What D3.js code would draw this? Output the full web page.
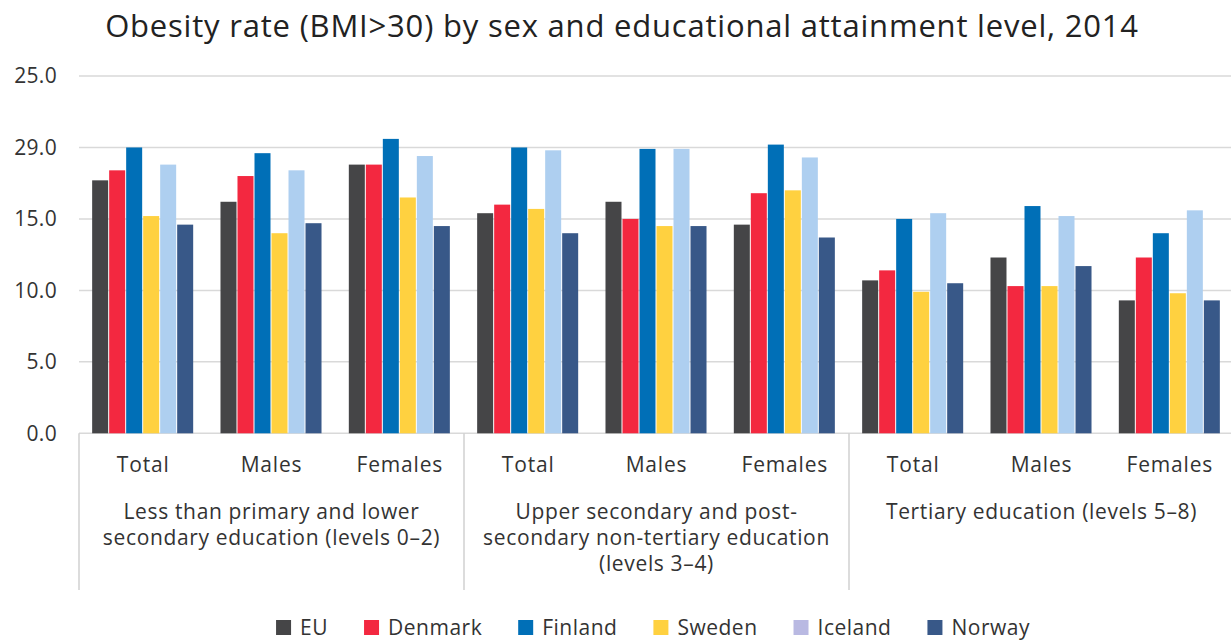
<!DOCTYPE html>
<html lang="en">
  <head>
    <meta charset="UTF-8" />
    <title>Obesity rate (BMI>30) by sex and educational attainment level, 2014</title>
    <script src="https://d3js.org/d3.v7.min.js"></script>
    <style>
      body { margin: 0; background: #fff; }
      text { font-family: "Open Sans", Lato, sans-serif; fill: #333; }
    </style>
  </head>
  <body>
    <svg id="chart"></svg>
    <script>
      // Data
      const sexes = ["Total", "Males", "Females"];
      const groups = [
        ["Less than primary and lower", "secondary education (levels 0–2)"],
        ["Upper secondary and post-", "secondary non-tertiary education", "(levels 3–4)"],
        ["Tertiary education (levels 5–8)"],
      ];
      const countries = ["EU", "Denmark", "Finland", "Sweden", "Iceland", "Norway"];
      // one value per category: group 1 (T,M,F), group 2 (T,M,F), group 3 (T,M,F)
      const euValues      = [17.7, 16.2, 18.8, 15.4, 16.2, 14.6, 10.7, 12.3, 9.3];
      const denmarkValues = [18.4, 18.0, 18.8, 16.0, 15.0, 16.8, 11.4, 10.3, 12.3];
      const finlandValues = [20.0, 19.6, 20.6, 20.0, 19.9, 20.2, 15.0, 15.9, 14.0];
      const swedenValues  = [15.2, 14.0, 16.5, 15.7, 14.5, 17.0, 9.9, 10.3, 9.8];
      const icelandValues = [18.8, 18.4, 19.4, 19.8, 19.9, 19.3, 15.4, 15.2, 15.6];
      const norwayValues  = [14.6, 14.7, 14.5, 14.0, 14.5, 13.7, 10.5, 11.7, 9.3];
      const yTickValues = [0, 5, 10, 15, 20, 25];
      const yTickLabels = ["0.0", "5.0", "10.0", "15.0", "29.0", "25.0"];

      const barColors = ["#454547", "#f32840", "#006fb7", "#ffd140", "#aecff0", "#385888"];
      const legendColors = ["#454547", "#f32840", "#006fb7", "#ffd140", "#b9b9e2", "#385888"];

      const series = [euValues, denmarkValues, finlandValues, swedenValues, icelandValues, norwayValues];
      const categories = [];
      groups.forEach((g, gi) => sexes.forEach((s) => categories.push({ key: gi + "-" + s, sex: s, group: gi })));

      const W = 1231, H = 641;
      const plotLeft = 79, plotRight = 1234, base = 433.3, plotTop = 76;

      const svg = d3.select("#chart").attr("width", W).attr("height", H);

      const x0 = d3.scaleBand()
        .domain(categories.map((d) => d.key))
        .range([plotLeft, plotRight])
        .paddingInner(0.205)
        .paddingOuter(0.1025);
      const x1 = d3.scaleBand().domain(countries).range([0, x0.bandwidth()]);
      const y = d3.scaleLinear().domain([0, 25]).range([base, plotTop]);

      // Title
      svg.append("text")
        .attr("x", 622)
        .attr("y", 37)
        .attr("text-anchor", "middle")
        .style("font-size", "31px")
        .style("letter-spacing", "0.8px")
        .style("fill", "#222")
        .text("Obesity rate (BMI>30) by sex and educational attainment level, 2014");

      // Gridlines
      svg.append("g")
        .selectAll("line")
        .data(yTickValues)
        .join("line")
        .attr("x1", plotLeft)
        .attr("x2", W)
        .attr("y1", (d) => y(d))
        .attr("y2", (d) => y(d))
        .attr("stroke", "#d9d9d9")
        .attr("stroke-width", 1.5);

      // Y tick labels
      svg.append("g")
        .selectAll("text")
        .data(yTickValues)
        .join("text")
        .attr("x", 57)
        .attr("y", (d) => y(d))
        .attr("dy", "0.35em")
        .attr("text-anchor", "end")
        .style("font-size", "21px")
        .style("letter-spacing", "0.3px")
        .text((d, i) => yTickLabels[i]);

      // Bars
      const cat = svg.append("g")
        .selectAll("g")
        .data(categories)
        .join("g")
        .attr("transform", (d) => `translate(${x0(d.key)},0)`);

      cat.selectAll("rect")
        .data((d, ci) => countries.map((c, si) => ({ country: c, si, value: series[si][ci] })))
        .join("rect")
        .attr("x", (d) => x1(d.country))
        .attr("y", (d) => y(d.value))
        .attr("width", x1.bandwidth() - 1)
        .attr("height", (d) => base - y(d.value))
        .attr("fill", (d) => barColors[d.si]);

      // Group separators
      const step = x0.step();
      const seps = [0, 3, 6, 9].map((i) => plotLeft + i * step);
      svg.append("g")
        .selectAll("line")
        .data(seps)
        .join("line")
        .attr("x1", (d) => d)
        .attr("x2", (d) => d)
        .attr("y1", base)
        .attr("y2", 590)
        .attr("stroke", "#d0d0d0")
        .attr("stroke-width", 1.5);

      // Sex labels
      svg.append("g")
        .selectAll("text")
        .data(categories)
        .join("text")
        .attr("x", (d) => x0(d.key) + x0.bandwidth() / 2)
        .attr("y", 472)
        .attr("text-anchor", "middle")
        .style("font-size", "21px")
        .style("letter-spacing", "0.8px")
        .text((d) => d.sex);

      // Group labels
      groups.forEach((lines, gi) => {
        const cx = plotLeft + (gi * 3 + 1.5) * step;
        const t = svg.append("text")
          .attr("text-anchor", "middle")
          .style("font-size", "21px")
          .style("letter-spacing", "0.65px");
        lines.forEach((ln, li) => {
          t.append("tspan").attr("x", cx).attr("y", 519 + li * 26).text(ln);
        });
      });

      // Legend
      const lg = svg.append("g");
      const items = lg.selectAll("g")
        .data(countries)
        .join("g");
      items.append("rect")
        .attr("width", 15)
        .attr("height", 15)
        .attr("y", -8)
        .attr("fill", (d, i) => legendColors[i]);
      items.append("text")
        .attr("x", 24)
        .attr("dy", "0.35em")
        .style("font-size", "21px")
        .style("letter-spacing", "0.5px")
        .text((d) => d);
      let xpos = 0;
      items.each(function () {
        const g = d3.select(this);
        g.attr("transform", `translate(${xpos},0)`);
        xpos += 24 + g.select("text").node().getComputedTextLength() + 36;
      });
      const total = xpos - 36;
      lg.attr("transform", `translate(${653 - total / 2},628)`);
    </script>
  </body>
</html>
